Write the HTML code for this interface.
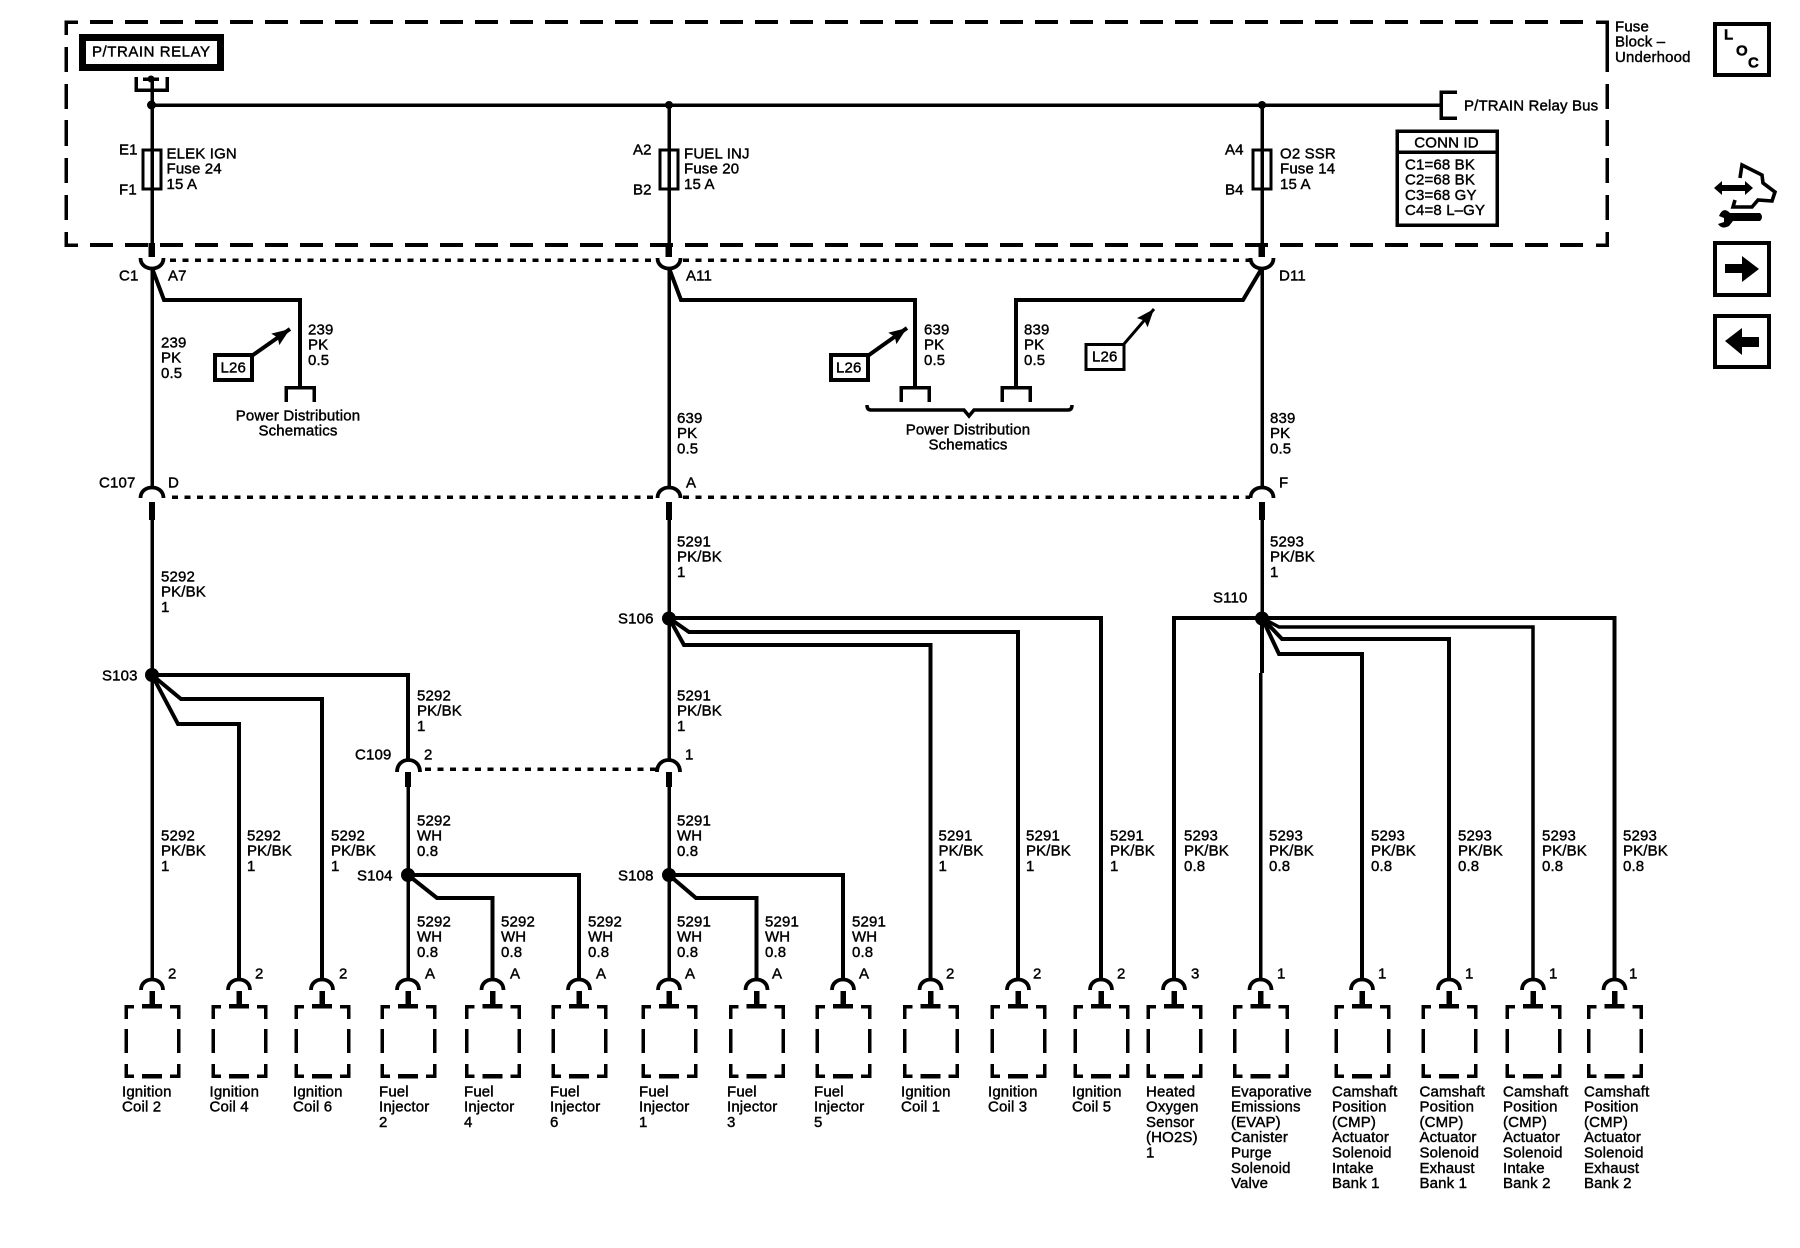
<!DOCTYPE html>
<html><head><meta charset="utf-8"><title>Wiring schematic</title>
<style>
html,body{margin:0;padding:0;background:#fff}
svg{display:block}
text{font:15px "Liberation Sans",sans-serif;fill:#000;stroke:#000;stroke-width:.42;letter-spacing:.15px;transform:translateY(-.7px)}
path,rect{shape-rendering:crispEdges}
.w{fill:none;stroke:#000;stroke-width:3.5;stroke-linejoin:miter}
.t{fill:none;stroke:#000;stroke-width:4}
.b{fill:none;stroke:#000;stroke-width:4;stroke-dasharray:23 12}
.v{fill:none;stroke:#000;stroke-width:3.5}
.d{fill:none;stroke:#000;stroke-width:3.5;stroke-dasharray:6 6.5}
.a{fill:none;stroke:#000;stroke-width:4;shape-rendering:auto}
.r{fill:none;stroke:#000;stroke-width:3.8;shape-rendering:auto}
</style></head><body>
<svg xmlns="http://www.w3.org/2000/svg" width="1800" height="1248" viewBox="0 0 1800 1248">
<defs>
<marker id="a" markerWidth="19" markerHeight="15" refX="18" refY="7.5" orient="auto" markerUnits="userSpaceOnUse"><path d="M0,0.5L18,7.5L0,14.5L3,7.5z" style="shape-rendering:auto"/></marker>
<g id="c">
<path class="r" d="M-11,990C-11,976 11,976 11,990"/>
<path d="M-2.500,991H3V1006H-2.500z"/>
<path class="v" d="M-26,1019V1006.500H-18M18,1006.500H26.500V1019M-26,1029V1053M26.500,1029V1053M-26,1064V1076H-18M18,1076H26.500V1064"/>
<path class="t" d="M-10,1006H10M-10,1076H10" style="stroke-width:4.500"/>
</g>
<g id="up"><path class="r" d="M-11.500,498C-11.500,484 11.500,484 11.500,498"/><path d="M-3,502H3V520H-3z"/></g>
<g id="dn"><path d="M-3.500,243H3V257H-3.500z"/><path class="r" d="M-11.500,258C-11.500,272 11.500,272 11.500,258"/></g>
<g id="tm"><path class="v" d="M-14,402V387.500H14V402"/></g>
</defs>

<!-- fuse block border -->
<path class="v" d="M66,35V22H78M1596,22H1607V72M66,47V72M66,84V109M66,120V146M66,158V183M66,195V220M66,232V245H78M1596,245H1607V232M1607,84V109M1607,120V146M1607,158V183M1607,195V220"/>
<path class="b" d="M90,22H1590M90,245H1590"/>

<!-- relay -->
<rect x="82.500" y="37.500" width="138" height="30" fill="#fff" stroke="#000" stroke-width="7"/>
<text x="92" y="57" style="letter-spacing:.55px">P/TRAIN RELAY</text>
<path class="v" d="M136,77V90H167V77M143,79H159"/>
<circle cx="151" cy="79" r="3.500"/>
<path class="w" d="M152,78V243M669,105V243M1262,105V243M152,105H1441"/>
<circle cx="151.500" cy="105" r="4.500"/><circle cx="669" cy="105" r="4"/><circle cx="1262" cy="105" r="4"/>
<path class="v" d="M1457,92H1441V118H1457"/>
<text x="1464" y="111">P/TRAIN Relay Bus</text>

<!-- fuses -->
<rect x="143" y="150" width="18" height="39" fill="none" stroke="#000" stroke-width="3"/>
<rect x="660" y="150" width="18" height="39" fill="none" stroke="#000" stroke-width="3"/>
<rect x="1253" y="150" width="18" height="39" fill="none" stroke="#000" stroke-width="3"/>
<text x="119" y="155">E1</text><text x="119" y="195">F1</text>
<text x="633" y="155">A2</text><text x="633" y="195">B2</text>
<text x="1225" y="155">A4</text><text x="1225" y="195">B4</text>
<text y="159"><tspan x="166.500">ELEK IGN</tspan><tspan x="166.500" dy="15.300">Fuse 24</tspan><tspan x="166.500" dy="15.300">15 A</tspan></text>
<text y="159"><tspan x="684">FUEL INJ</tspan><tspan x="684" dy="15.300">Fuse 20</tspan><tspan x="684" dy="15.300">15 A</tspan></text>
<text y="159"><tspan x="1280">O2 SSR</tspan><tspan x="1280" dy="15.300">Fuse 14</tspan><tspan x="1280" dy="15.300">15 A</tspan></text>

<text y="32"><tspan x="1615">Fuse</tspan><tspan x="1615" dy="15.300">Block –</tspan><tspan x="1615" dy="15.300">Underhood</tspan></text>

<!-- conn id -->
<rect x="1397" y="131" width="100" height="94" fill="none" stroke="#000" stroke-width="3.500"/>
<path class="v" d="M1397,152H1497"/>
<text x="1446.500" y="148" text-anchor="middle">CONN ID</text>
<text y="170"><tspan x="1405">C1=68 BK</tspan><tspan x="1405" dy="15.300">C2=68 BK</tspan><tspan x="1405" dy="15.300">C3=68 GY</tspan><tspan x="1405" dy="15.300">C4=8 L–GY</tspan></text>

<!-- right icons -->
<rect x="1715" y="24" width="54" height="51" fill="#fff" stroke="#000" stroke-width="4"/>
<text x="1724" y="40" style="font-weight:bold">L</text><text x="1736" y="56" style="font-weight:bold">O</text><text x="1748" y="68" style="font-weight:bold">C</text>
<path fill="none" stroke="#000" stroke-width="3.600" style="shape-rendering:auto" d="M1740,178L1742,165L1762,175L1763,183L1775,192L1772,201L1758,200L1752,207L1733,207L1735,200"/>
<path style="shape-rendering:auto" d="M1714,188L1722,181V185H1745V181L1753,188L1745,195V191H1722V195z"/>
<path style="shape-rendering:auto" d="M1730,213H1760Q1764,217 1760,221H1733L1729,226Q1722,230 1718,224L1724,222L1724,218L1719,216Q1723,206 1730,213z"/>
<rect x="1715" y="243" width="54" height="52" fill="#fff" stroke="#000" stroke-width="4"/>
<path d="M1725,264H1742V256L1759,269L1742,282V273H1725z" style="shape-rendering:auto"/>
<rect x="1715" y="316" width="54" height="51" fill="#fff" stroke="#000" stroke-width="4"/>
<path d="M1759,337H1742V328L1725,341L1742,355V347H1759z" style="shape-rendering:auto"/>

<!-- C1 connectors -->
<use href="#dn" x="152"/><use href="#dn" x="669"/><use href="#dn" x="1262"/>
<path class="d" d="M170,260H657M683,260H1250"/>
<text x="119" y="281">C1</text><text x="168" y="281">A7</text><text x="686" y="281">A11</text><text x="1279" y="281">D11</text>

<!-- main wires -->
<path class="w" d="M152,268V488M669,268V488M1262,268V488"/>
<path class="a" d="M152,268L164,300H300V388M669,268L681,300H915V388M1262,268L1243,300H1016V388"/>
<use href="#tm" x="300"/><use href="#tm" x="915"/><use href="#tm" x="1016"/>

<text y="348"><tspan x="161">239</tspan><tspan x="161" dy="15.300">PK</tspan><tspan x="161" dy="15.300">0.5</tspan></text>
<text y="335"><tspan x="308">239</tspan><tspan x="308" dy="15.300">PK</tspan><tspan x="308" dy="15.300">0.5</tspan></text>
<text y="335"><tspan x="924">639</tspan><tspan x="924" dy="15.300">PK</tspan><tspan x="924" dy="15.300">0.5</tspan></text>
<text y="335"><tspan x="1024">839</tspan><tspan x="1024" dy="15.300">PK</tspan><tspan x="1024" dy="15.300">0.5</tspan></text>
<text y="423.500"><tspan x="677">639</tspan><tspan x="677" dy="15.300">PK</tspan><tspan x="677" dy="15.300">0.5</tspan></text>
<text y="423.500"><tspan x="1270">839</tspan><tspan x="1270" dy="15.300">PK</tspan><tspan x="1270" dy="15.300">0.5</tspan></text>

<!-- L26 -->
<rect x="215" y="355" width="37" height="25" fill="none" stroke="#000" stroke-width="4"/>
<text x="220.500" y="373">L26</text>
<path class="a" d="M253,355L290,329" marker-end="url(#a)"/>
<rect x="831" y="355" width="37" height="25" fill="none" stroke="#000" stroke-width="4"/>
<text x="836" y="373">L26</text>
<path class="a" d="M869,355L907,328" marker-end="url(#a)"/>
<rect x="1086" y="344.500" width="38" height="25" fill="none" stroke="#000" stroke-width="3"/>
<text x="1092" y="362">L26</text>
<path class="a" style="stroke-width:3" d="M1124,344L1154,309" marker-end="url(#a)"/>

<text text-anchor="middle" x="298" y="421">Power Distribution</text>
<text text-anchor="middle" x="298" y="436.300">Schematics</text>
<path class="v" style="shape-rendering:auto" d="M867,405Q867,410 871,410H964L969,416L974,410H1068Q1072,410 1072,405"/>
<text text-anchor="middle" x="968" y="435">Power Distribution</text>
<text text-anchor="middle" x="968" y="450.300">Schematics</text>

<!-- C107 -->
<use href="#up" x="152"/><use href="#up" x="669"/><use href="#up" x="1262"/>
<path class="d" d="M172,497H657M683,497H1250"/>
<text x="99" y="488">C107</text><text x="168" y="488">D</text><text x="686" y="488">A</text><text x="1279" y="488">F</text>

<path class="w" d="M152,520V980M669,520V760M1262,520V618"/>
<text y="582"><tspan x="161">5292</tspan><tspan x="161" dy="15.300">PK/BK</tspan><tspan x="161" dy="15.300">1</tspan></text>
<text y="547"><tspan x="677">5291</tspan><tspan x="677" dy="15.300">PK/BK</tspan><tspan x="677" dy="15.300">1</tspan></text>
<text y="547"><tspan x="1270">5293</tspan><tspan x="1270" dy="15.300">PK/BK</tspan><tspan x="1270" dy="15.300">1</tspan></text>

<!-- S103 -->
<circle cx="152" cy="675" r="7"/>
<text x="102" y="681">S103</text>
<path class="a" d="M152,675H408V760M152,675L181,699H322V980M152,675L178,724H239V980"/>
<text y="701"><tspan x="417">5292</tspan><tspan x="417" dy="15.300">PK/BK</tspan><tspan x="417" dy="15.300">1</tspan></text>
<text y="701"><tspan x="677">5291</tspan><tspan x="677" dy="15.300">PK/BK</tspan><tspan x="677" dy="15.300">1</tspan></text>

<!-- C109 -->
<path class="r" d="M397,772C397,756 420,756 420,772M657,772C657,756 680,756 680,772"/>
<path d="M405,772H411V787H405zM666,772H672V787H666z"/>
<path class="d" d="M425,769H657"/>
<text x="355" y="760">C109</text><text x="424" y="760">2</text><text x="685" y="760">1</text>
<path class="w" d="M408,787V980M669,787V980"/>
<text y="826"><tspan x="417">5292</tspan><tspan x="417" dy="15.300">WH</tspan><tspan x="417" dy="15.300">0.8</tspan></text>
<text y="826"><tspan x="677">5291</tspan><tspan x="677" dy="15.300">WH</tspan><tspan x="677" dy="15.300">0.8</tspan></text>

<!-- S104 S108 -->
<circle cx="408" cy="875" r="7"/><circle cx="669" cy="875" r="7"/>
<text x="357" y="881">S104</text><text x="618" y="881">S108</text>
<path class="a" d="M408,875H579V980M408,875L437,898H492.500V980M669,875H843V980M669,875L696,898H756.500V980"/>
<text y="927"><tspan x="417">5292</tspan><tspan x="417" dy="15.300">WH</tspan><tspan x="417" dy="15.300">0.8</tspan></text>
<text y="927"><tspan x="501">5292</tspan><tspan x="501" dy="15.300">WH</tspan><tspan x="501" dy="15.300">0.8</tspan></text>
<text y="927"><tspan x="588">5292</tspan><tspan x="588" dy="15.300">WH</tspan><tspan x="588" dy="15.300">0.8</tspan></text>
<text y="927"><tspan x="677">5291</tspan><tspan x="677" dy="15.300">WH</tspan><tspan x="677" dy="15.300">0.8</tspan></text>
<text y="927"><tspan x="765">5291</tspan><tspan x="765" dy="15.300">WH</tspan><tspan x="765" dy="15.300">0.8</tspan></text>
<text y="927"><tspan x="852">5291</tspan><tspan x="852" dy="15.300">WH</tspan><tspan x="852" dy="15.300">0.8</tspan></text>

<text y="841"><tspan x="161">5292</tspan><tspan x="161" dy="15.300">PK/BK</tspan><tspan x="161" dy="15.300">1</tspan></text>
<text y="841"><tspan x="247">5292</tspan><tspan x="247" dy="15.300">PK/BK</tspan><tspan x="247" dy="15.300">1</tspan></text>
<text y="841"><tspan x="331">5292</tspan><tspan x="331" dy="15.300">PK/BK</tspan><tspan x="331" dy="15.300">1</tspan></text>

<!-- S106 -->
<circle cx="669" cy="618.500" r="7"/>
<text x="618" y="624">S106</text>
<path class="a" d="M669,618H1101V980M669,618L689,632H1018V980M669,618L684,645H930.500V980"/>
<text y="841"><tspan x="938.500">5291</tspan><tspan x="938.500" dy="15.300">PK/BK</tspan><tspan x="938.500" dy="15.300">1</tspan></text>
<text y="841"><tspan x="1026">5291</tspan><tspan x="1026" dy="15.300">PK/BK</tspan><tspan x="1026" dy="15.300">1</tspan></text>
<text y="841"><tspan x="1110">5291</tspan><tspan x="1110" dy="15.300">PK/BK</tspan><tspan x="1110" dy="15.300">1</tspan></text>

<!-- S110 -->
<circle cx="1262" cy="618.500" r="7"/>
<text x="1213" y="603">S110</text>
<path class="a" d="M1174,980V618H1614.500V980"/>
<path class="a" style="stroke-width:3.500" d="M1262,618L1279,627H1533V980"/>
<path class="a" d="M1262,618L1282,639H1449V980M1262,618L1279,654H1362V980M1262,618V673"/>
<path class="w" d="M1260.500,673V980"/>
<text y="841"><tspan x="1184">5293</tspan><tspan x="1184" dy="15.300">PK/BK</tspan><tspan x="1184" dy="15.300">0.8</tspan></text>
<text y="841"><tspan x="1269">5293</tspan><tspan x="1269" dy="15.300">PK/BK</tspan><tspan x="1269" dy="15.300">0.8</tspan></text>
<text y="841"><tspan x="1371">5293</tspan><tspan x="1371" dy="15.300">PK/BK</tspan><tspan x="1371" dy="15.300">0.8</tspan></text>
<text y="841"><tspan x="1458">5293</tspan><tspan x="1458" dy="15.300">PK/BK</tspan><tspan x="1458" dy="15.300">0.8</tspan></text>
<text y="841"><tspan x="1542">5293</tspan><tspan x="1542" dy="15.300">PK/BK</tspan><tspan x="1542" dy="15.300">0.8</tspan></text>
<text y="841"><tspan x="1623">5293</tspan><tspan x="1623" dy="15.300">PK/BK</tspan><tspan x="1623" dy="15.300">0.8</tspan></text>

<!-- bottom components -->
<use href="#c" x="152"/><use href="#c" x="239"/><use href="#c" x="322"/><use href="#c" x="408"/><use href="#c" x="492.500"/><use href="#c" x="579"/><use href="#c" x="669"/><use href="#c" x="756.500"/><use href="#c" x="843"/><use href="#c" x="930.500"/><use href="#c" x="1018"/><use href="#c" x="1101"/><use href="#c" x="1174"/><use href="#c" x="1260.500"/><use href="#c" x="1362"/><use href="#c" x="1449"/><use href="#c" x="1533"/><use href="#c" x="1614.500"/>

<text x="168" y="979">2</text><text x="255" y="979">2</text><text x="339" y="979">2</text>
<text x="425" y="979">A</text><text x="510" y="979">A</text><text x="596" y="979">A</text><text x="685" y="979">A</text><text x="772" y="979">A</text><text x="859" y="979">A</text>
<text x="946" y="979">2</text><text x="1033" y="979">2</text><text x="1117" y="979">2</text><text x="1191" y="979">3</text><text x="1277" y="979">1</text><text x="1378" y="979">1</text><text x="1465" y="979">1</text><text x="1549" y="979">1</text><text x="1629" y="979">1</text>

<text y="1097"><tspan x="122">Ignition</tspan><tspan x="122" dy="15.300">Coil 2</tspan></text>
<text y="1097"><tspan x="209.500">Ignition</tspan><tspan x="209.500" dy="15.300">Coil 4</tspan></text>
<text y="1097"><tspan x="293">Ignition</tspan><tspan x="293" dy="15.300">Coil 6</tspan></text>
<text y="1097"><tspan x="379">Fuel</tspan><tspan x="379" dy="15.300">Injector</tspan><tspan x="379" dy="15.300">2</tspan></text>
<text y="1097"><tspan x="464">Fuel</tspan><tspan x="464" dy="15.300">Injector</tspan><tspan x="464" dy="15.300">4</tspan></text>
<text y="1097"><tspan x="550">Fuel</tspan><tspan x="550" dy="15.300">Injector</tspan><tspan x="550" dy="15.300">6</tspan></text>
<text y="1097"><tspan x="639">Fuel</tspan><tspan x="639" dy="15.300">Injector</tspan><tspan x="639" dy="15.300">1</tspan></text>
<text y="1097"><tspan x="727">Fuel</tspan><tspan x="727" dy="15.300">Injector</tspan><tspan x="727" dy="15.300">3</tspan></text>
<text y="1097"><tspan x="814">Fuel</tspan><tspan x="814" dy="15.300">Injector</tspan><tspan x="814" dy="15.300">5</tspan></text>
<text y="1097"><tspan x="901">Ignition</tspan><tspan x="901" dy="15.300">Coil 1</tspan></text>
<text y="1097"><tspan x="988">Ignition</tspan><tspan x="988" dy="15.300">Coil 3</tspan></text>
<text y="1097"><tspan x="1072">Ignition</tspan><tspan x="1072" dy="15.300">Coil 5</tspan></text>
<text y="1097"><tspan x="1146">Heated</tspan><tspan x="1146" dy="15.300">Oxygen</tspan><tspan x="1146" dy="15.300">Sensor</tspan><tspan x="1146" dy="15.300">(HO2S)</tspan><tspan x="1146" dy="15.300">1</tspan></text>
<text y="1097"><tspan x="1231">Evaporative</tspan><tspan x="1231" dy="15.300">Emissions</tspan><tspan x="1231" dy="15.300">(EVAP)</tspan><tspan x="1231" dy="15.300">Canister</tspan><tspan x="1231" dy="15.300">Purge</tspan><tspan x="1231" dy="15.300">Solenoid</tspan><tspan x="1231" dy="15.300">Valve</tspan></text>
<text y="1097"><tspan x="1332">Camshaft</tspan><tspan x="1332" dy="15.300">Position</tspan><tspan x="1332" dy="15.300">(CMP)</tspan><tspan x="1332" dy="15.300">Actuator</tspan><tspan x="1332" dy="15.300">Solenoid</tspan><tspan x="1332" dy="15.300">Intake</tspan><tspan x="1332" dy="15.300">Bank 1</tspan></text>
<text y="1097"><tspan x="1419.500">Camshaft</tspan><tspan x="1419.500" dy="15.300">Position</tspan><tspan x="1419.500" dy="15.300">(CMP)</tspan><tspan x="1419.500" dy="15.300">Actuator</tspan><tspan x="1419.500" dy="15.300">Solenoid</tspan><tspan x="1419.500" dy="15.300">Exhaust</tspan><tspan x="1419.500" dy="15.300">Bank 1</tspan></text>
<text y="1097"><tspan x="1503">Camshaft</tspan><tspan x="1503" dy="15.300">Position</tspan><tspan x="1503" dy="15.300">(CMP)</tspan><tspan x="1503" dy="15.300">Actuator</tspan><tspan x="1503" dy="15.300">Solenoid</tspan><tspan x="1503" dy="15.300">Intake</tspan><tspan x="1503" dy="15.300">Bank 2</tspan></text>
<text y="1097"><tspan x="1584">Camshaft</tspan><tspan x="1584" dy="15.300">Position</tspan><tspan x="1584" dy="15.300">(CMP)</tspan><tspan x="1584" dy="15.300">Actuator</tspan><tspan x="1584" dy="15.300">Solenoid</tspan><tspan x="1584" dy="15.300">Exhaust</tspan><tspan x="1584" dy="15.300">Bank 2</tspan></text>
</svg>
</body></html>
